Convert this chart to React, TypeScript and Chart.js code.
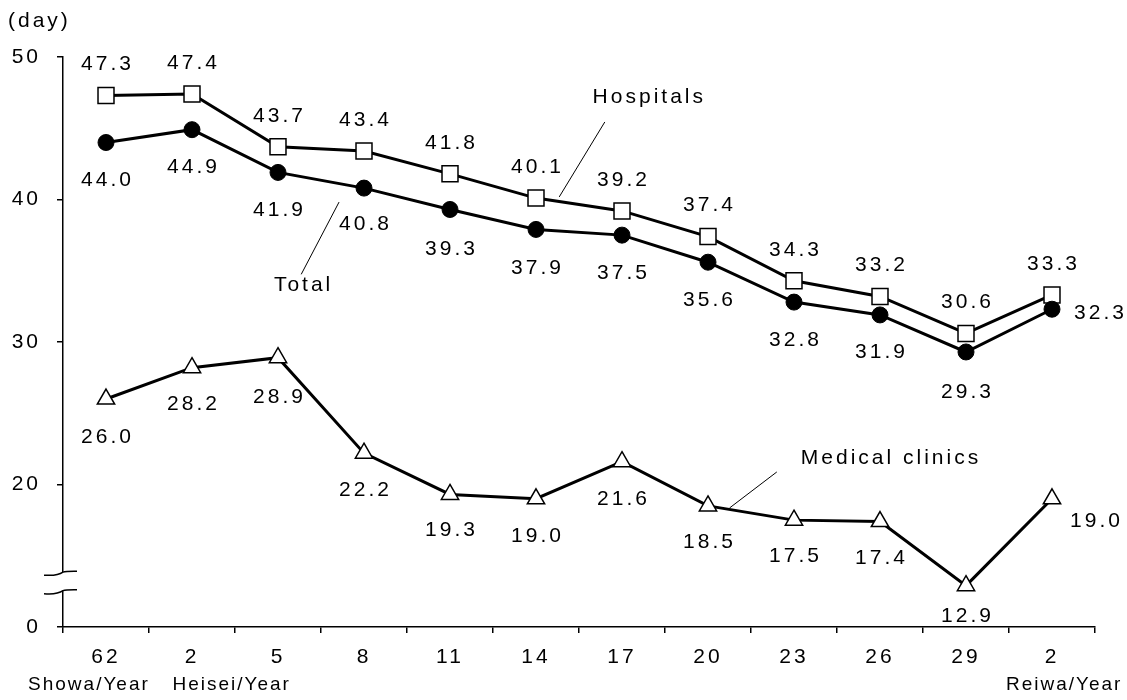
import React, { useEffect, useRef } from 'react';
import { Chart, registerables } from 'chart.js';

Chart.register(...registerables);

// ---- data ----
const categories = ['62', '2', '5', '8', '11', '14', '17', '20', '23', '26', '29', '2'];
const total = [44.0, 44.9, 41.9, 40.8, 39.3, 37.9, 37.5, 35.6, 32.8, 31.9, 29.3, 32.3];
const hospitals = [47.3, 47.4, 43.7, 43.4, 41.8, 40.1, 39.2, 37.4, 34.3, 33.2, 30.6, 33.3];
const clinics = [26.0, 28.2, 28.9, 22.2, 19.3, 19.0, 21.6, 18.5, 17.5, 17.4, 12.9, 19.0];
const seriesNames = ['Total', 'Hospitals', 'Medical clinics'];
const yTickValues = [10, 20, 30, 40, 50];
const yTickLabels = ['0', '20', '30', '40', '50'];
const eraLabels = ['Showa/Year', 'Heisei/Year', 'Reiwa/Year'];
const unitLabel = '(day)';

// ---- layout / style (not data) ----
const FONT_FAMILY = '"Liberation Sans", Arial, sans-serif';
const FONT = `21px ${FONT_FAMILY}`;
const ERA_FONT = `19px ${FONT_FAMILY}`;
const eraAnchors = [-0.21, 1.45, 11.13];
const totalLabelOffsets = [
  [0, 38], [0, 38], [0, 38], [0, 36], [0, 40], [0, 39], [0, 38], [0, 38], [0, 38], [0, 37], [0, 40], [47, 4],
];
const hospitalsLabelOffsets = hospitals.map(() => [0, -31]);
const clinicsLabelOffsets = [
  [0, 38], [0, 37], [0, 40], [0, 37], [0, 36], [0, 37], [0, 38], [0, 36], [0, 36], [0, 37], [0, 31], [43, 22],
];
const labelOffsets = [totalLabelOffsets, hospitalsLabelOffsets, clinicsLabelOffsets];
// series-name annotations in data coordinates: [labelIdx, labelVal, lineFromIdx, lineFromVal, lineToIdx, lineToVal]
const seriesCallouts = [
  [2.28, 34.0, 2.71, 39.82, 2.27, 34.75],
  [6.30, 47.2, 5.27, 40.18, 5.80, 45.44],
  [9.11, 21.86, 7.25, 18.35, 7.80, 20.88],
];
const breakValues = [13.85, 12.55];

const overlayPlugin = {
  id: 'overlay',
  beforeDraw(chart: any) {
    chart.ctx.letterSpacing = '3px';
  },
  afterDraw(chart: any) {
    const ctx: CanvasRenderingContext2D = chart.ctx;
    const xs = chart.scales.x;
    const ys = chart.scales.y;
    ctx.save();
    ctx.letterSpacing = '3px';
    ctx.fillStyle = '#000';
    ctx.strokeStyle = '#000';

    // axis break
    const ax = chart.chartArea.left;
    const b1 = ys.getPixelForValue(breakValues[0]);
    const b2 = ys.getPixelForValue(breakValues[1]);
    ctx.fillStyle = '#fff';
    ctx.fillRect(ax - 3, b1, 6, b2 - b1);
    ctx.lineWidth = 1.5;
    for (const yy of [b1, b2]) {
      ctx.beginPath();
      ctx.moveTo(ax - 19, yy + 3);
      ctx.bezierCurveTo(ax - 9, yy + 3.8, ax - 4, yy + 2.8, ax, yy);
      ctx.bezierCurveTo(ax + 3, yy - 1.2, ax + 8, yy - 1, ax + 14, yy - 1);
      ctx.stroke();
    }

    // data labels
    ctx.fillStyle = '#000';
    ctx.font = FONT;
    ctx.textAlign = 'center';
    ctx.textBaseline = 'middle';
    chart.data.datasets.forEach((ds: any, di: number) => {
      const meta = chart.getDatasetMeta(di);
      meta.data.forEach((pt: any, i: number) => {
        const [dx, dy] = labelOffsets[di][i];
        ctx.fillText(Number(ds.data[i]).toFixed(1), pt.x + dx + 1.5, pt.y + dy);
      });
    });

    // series callouts
    ctx.lineWidth = 1;
    seriesCallouts.forEach((c, i) => {
      const [lx, lv, fx, fv, tx, tv] = c;
      ctx.beginPath();
      ctx.moveTo(xs.getPixelForValue(fx), ys.getPixelForValue(fv));
      ctx.lineTo(xs.getPixelForValue(tx), ys.getPixelForValue(tv));
      ctx.stroke();
      ctx.fillText(seriesNames[i], xs.getPixelForValue(lx) + 1.5, ys.getPixelForValue(lv));
    });

    // era labels
    ctx.font = ERA_FONT;
    ctx.letterSpacing = '2px';
    eraLabels.forEach((t, i) => {
      ctx.fillText(t, xs.getPixelForValue(eraAnchors[i]) + 1, chart.chartArea.bottom + 58);
    });

    // unit label
    ctx.font = FONT;
    ctx.letterSpacing = '3px';
    ctx.textAlign = 'left';
    ctx.fillText(unitLabel, 8, 21);

    ctx.restore();
  },
};

export default function App() {
  const canvasRef = useRef<HTMLCanvasElement | null>(null);

  useEffect(() => {
    document.body.style.margin = '0';
    const canvas = canvasRef.current;
    if (!canvas) return;
    const chart = new Chart(canvas, {
      type: 'line',
      data: {
        labels: categories,
        datasets: [
          {
            label: seriesNames[0],
            data: total,
            borderColor: '#000',
            borderWidth: 3,
            pointStyle: 'circle',
            pointRadius: 8,
            pointBackgroundColor: '#000',
            pointBorderColor: '#000',
            pointBorderWidth: 1,
            tension: 0,
            clip: false,
          },
          {
            label: seriesNames[1],
            data: hospitals,
            borderColor: '#000',
            borderWidth: 3,
            pointStyle: 'rect',
            pointRadius: 11.3,
            pointBackgroundColor: '#fff',
            pointBorderColor: '#000',
            pointBorderWidth: 1.5,
            tension: 0,
            clip: false,
          },
          {
            label: seriesNames[2],
            data: clinics,
            borderColor: '#000',
            borderWidth: 3,
            pointStyle: 'triangle',
            pointRadius: 10,
            pointBackgroundColor: '#fff',
            pointBorderColor: '#000',
            pointBorderWidth: 1.5,
            tension: 0,
            clip: false,
          },
        ],
      } as any,
      options: {
        animation: false,
        responsive: true,
        maintainAspectRatio: false,
        layout: { padding: { top: 57, right: 32, left: 0, bottom: 0 } },
        plugins: {
          legend: { display: false },
          tooltip: { enabled: false },
        },
        scales: {
          x: {
            type: 'category',
            offset: true,
            grid: {
              offset: true,
              drawOnChartArea: false,
              drawTicks: true,
              tickLength: 6,
              color: '#000',
              lineWidth: 1.5,
            },
            border: { display: true, color: '#000', width: 1.5 },
            ticks: {
              color: '#000',
              font: { family: FONT_FAMILY, size: 21 },
              padding: 12,
              maxRotation: 0,
              autoSkip: false,
            },
            afterFit(scale: any) {
              scale.height = 73;
            },
          },
          y: {
            type: 'linear',
            min: 10,
            max: 50,
            grid: {
              drawOnChartArea: false,
              drawTicks: true,
              tickLength: 6,
              color: '#000',
              lineWidth: 1.5,
            },
            border: { display: true, color: '#000', width: 1.5 },
            ticks: {
              stepSize: 10,
              color: '#000',
              font: { family: FONT_FAMILY, size: 21 },
              padding: 16,
              callback: (v: any) => {
                const i = yTickValues.indexOf(Number(v));
                return i >= 0 ? yTickLabels[i] : '';
              },
            },
            afterFit(scale: any) {
              scale.width = 63;
            },
          },
        },
      } as any,
      plugins: [overlayPlugin],
    });
    return () => chart.destroy();
  }, []);

  return (
    <div style={{ position: 'relative', width: 1127, height: 700 }}>
      <canvas ref={canvasRef} />
    </div>
  );
}
